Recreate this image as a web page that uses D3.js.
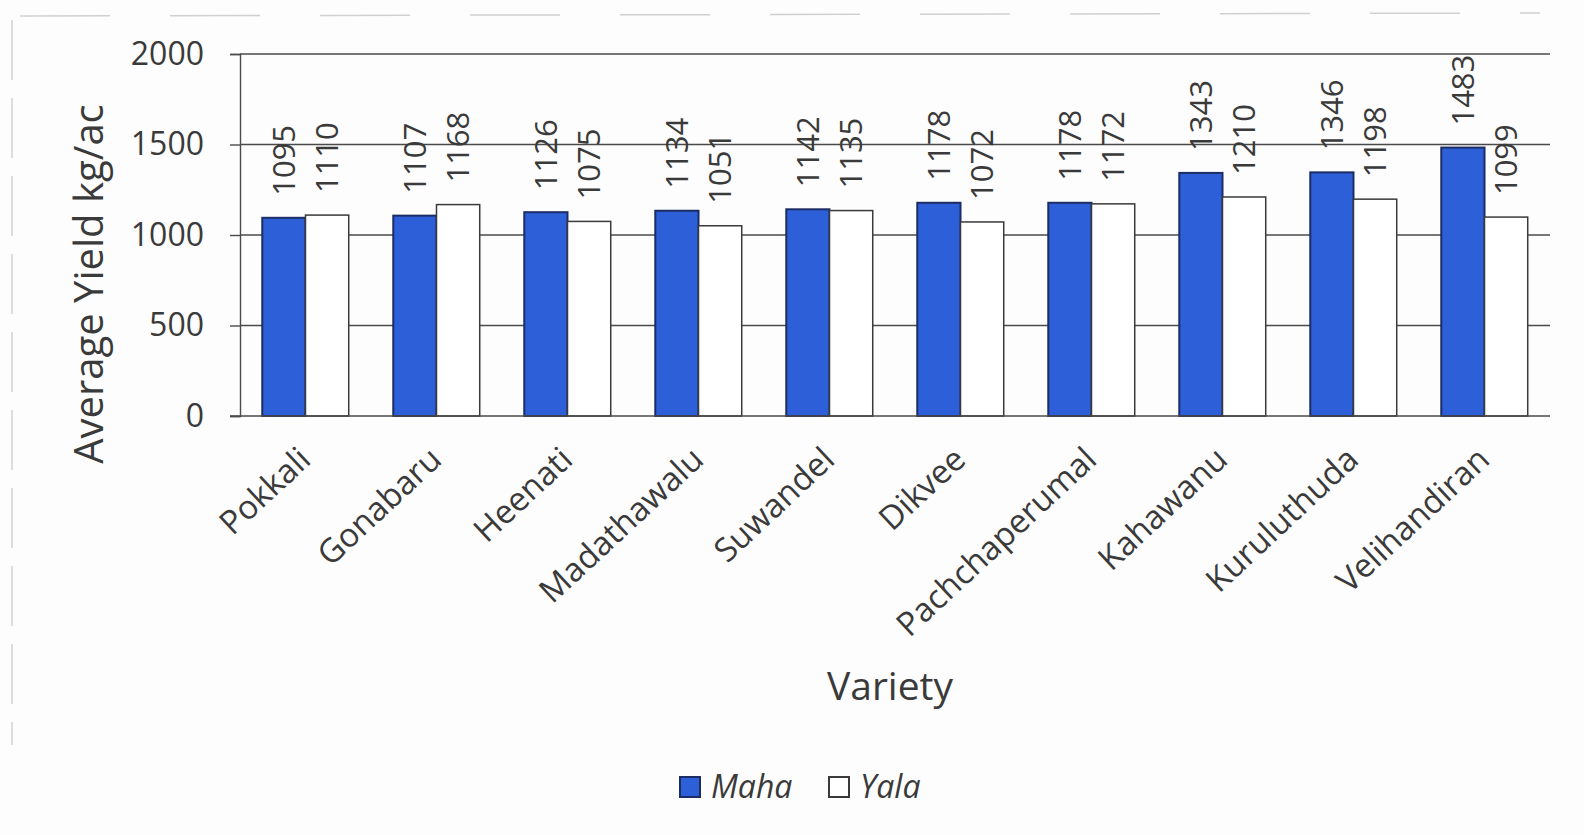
<!DOCTYPE html>
<html>
<head>
<meta charset="utf-8">
<script src="https://cdn.jsdelivr.net/npm/d3@7"></script>
<style>
  html, body { margin: 0; padding: 0; background: #fdfdfd; }
  svg { display: block; }
  text { font-family: "Open Sans", "DejaVu Sans", sans-serif; fill: #3a3a3a; }
</style>
</head>
<body>
<svg id="chart" width="1584" height="835"></svg>
<script>
const categories = ["Pokkali", "Gonabaru", "Heenati", "Madathawalu", "Suwandel", "Dikvee", "Pachchaperumal", "Kahawanu", "Kuruluthuda", "Velihandiran"];
const seriesNames = ["Maha", "Yala"];
const mahaValues = [1095, 1107, 1126, 1134, 1142, 1178, 1178, 1343, 1346, 1483];
const yalaValues = [1110, 1168, 1075, 1051, 1135, 1072, 1172, 1210, 1198, 1099];
const yTicks = [0, 500, 1000, 1500, 2000];
const seriesColors = { Maha: "#2d5fd8", Yala: "#ffffff" };
const seriesStroke = { Maha: "#1c2d66", Yala: "#3a3a3a" };

const svg = d3.select("#chart");
const plotLeft = 240, plotRight = 1550, plotTop = 54, plotBottom = 416;

// scan frame artifacts
svg.append("line").attr("x1", 12).attr("x2", 12).attr("y1", 20).attr("y2", 745)
  .attr("stroke", "#c8c8c8").attr("stroke-width", 1.2).attr("stroke-dasharray", "60,18");
svg.append("line").attr("x1", 20).attr("x2", 1540).attr("y1", 16).attr("y2", 13)
  .attr("stroke", "#d0d0d0").attr("stroke-width", 1.5).attr("stroke-dasharray", "90,60");

const x = d3.scaleBand().domain(categories).range([plotLeft, plotRight])
  .paddingInner(0.34).paddingOuter(0.17);
const xs = d3.scaleBand().domain(seriesNames).range([0, x.bandwidth()]);
const y = d3.scaleLinear().domain([0, 2000]).range([plotBottom, plotTop]);

// gridlines
svg.append("g").selectAll("line").data(yTicks.filter(d => d > 0)).join("line")
  .attr("x1", plotLeft).attr("x2", plotRight)
  .attr("y1", d => y(d)).attr("y2", d => y(d))
  .attr("stroke", "#4a4a4a").attr("stroke-width", 1.4);

// y axis
const yAxis = d3.axisLeft(y).tickValues(yTicks).tickSize(10).tickPadding(26).tickFormat(d3.format("d"));
const gy = svg.append("g").attr("transform", `translate(${plotLeft},0)`).call(yAxis);
gy.select(".domain").attr("stroke", "#4a4a4a").attr("stroke-width", 1.4);
gy.selectAll(".tick line").attr("stroke", "#4a4a4a").attr("stroke-width", 1.4);
gy.selectAll(".tick text").style("font-size", "32px").attr("fill", "#3a3a3a")
  .style("font-family", '"Open Sans", sans-serif');

// bars
const rows = categories.map((c, i) => ({ cat: c, Maha: mahaValues[i], Yala: yalaValues[i] }));
const groups = svg.append("g").selectAll("g").data(rows).join("g")
  .attr("transform", d => `translate(${x(d.cat)},0)`);
groups.selectAll("rect").data(d => seriesNames.map(s => ({ s, v: d[s] }))).join("rect")
  .attr("x", d => xs(d.s)).attr("width", xs.bandwidth())
  .attr("y", d => y(d.v)).attr("height", d => y(0) - y(d.v))
  .attr("fill", d => seriesColors[d.s]).attr("stroke", d => seriesStroke[d.s])
  .attr("stroke-width", d => d.s === "Maha" ? 2 : 1.5);

// baseline
svg.append("line").attr("x1", plotLeft - 10).attr("x2", plotRight)
  .attr("y1", y(0)).attr("y2", y(0)).attr("stroke", "#4a4a4a").attr("stroke-width", 1.4);

// data labels
groups.selectAll("text.lbl").data(d => seriesNames.map(s => ({ s, v: d[s] }))).join("text")
  .attr("class", "lbl")
  .attr("transform", d => `translate(${xs(d.s) + xs.bandwidth() / 2},${y(d.v) - 22}) rotate(-90)`)
  .attr("dy", "0.36em")
  .attr("text-anchor", "start")
  .style("font-size", "31px")
  .text(d => d.v);

// x labels
svg.append("g").selectAll("text").data(categories).join("text")
  .attr("transform", d => `translate(${x(d) + x.bandwidth() / 2 + 7},462) rotate(-43)`)
  .attr("text-anchor", "end")
  .style("font-size", "33px")
  .text(d => d);

// axis titles
svg.append("text").attr("transform", `translate(103,284) rotate(-90)`)
  .attr("text-anchor", "middle").style("font-size", "40px").text("Average Yield kg/ac");
svg.append("text").attr("x", 890).attr("y", 700)
  .attr("text-anchor", "middle").style("font-size", "39px").text("Variety");

// legend
const legend = svg.append("g");
const legendItems = [{ s: "Maha", bx: 680, tx: 711 }, { s: "Yala", bx: 829, tx: 860 }];
legendItems.forEach(it => {
  legend.append("rect").attr("x", it.bx).attr("y", 777).attr("width", 20).attr("height", 20)
    .attr("fill", seriesColors[it.s]).attr("stroke", seriesStroke[it.s]).attr("stroke-width", 2);
  legend.append("text").attr("x", it.tx).attr("y", 798).style("font-size", "32px")
    .style("font-style", "italic").text(it.s);
});
</script>
</body>
</html>
